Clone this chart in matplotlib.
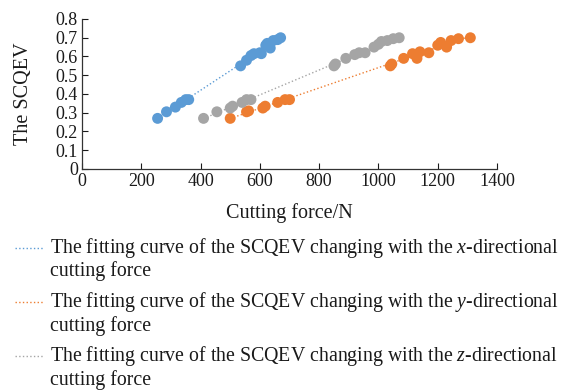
import numpy as np
import matplotlib.pyplot as plt
from matplotlib.lines import Line2D

plt.rcParams['font.family'] = 'Liberation Serif'
plt.rcParams['mathtext.fontset'] = 'custom'
plt.rcParams['mathtext.rm'] = 'Liberation Serif'
plt.rcParams['mathtext.it'] = 'Liberation Serif:italic'

# cutting force (N) vs SCQEV for each direction
fx = [255, 285, 315, 335, 350, 360, 535, 555, 570, 580, 600, 605, 620, 625, 635, 645, 660, 670]
sx = [0.27, 0.305, 0.33, 0.355, 0.37, 0.37, 0.55, 0.58, 0.605, 0.615, 0.62, 0.615, 0.66, 0.67, 0.645, 0.685, 0.69, 0.70]

fy = [500, 555, 562, 610, 618, 660, 685, 700, 1040, 1045, 1085, 1115, 1130, 1140, 1170, 1200, 1210, 1230, 1245, 1270, 1310]
sy = [0.27, 0.305, 0.31, 0.325, 0.335, 0.355, 0.37, 0.37, 0.55, 0.56, 0.59, 0.615, 0.59, 0.625, 0.62, 0.66, 0.675, 0.65, 0.685, 0.695, 0.70]

fz = [410, 455, 500, 508, 540, 555, 570, 850, 855, 890, 920, 935, 955, 985, 1000, 1010, 1030, 1050, 1070]
sz = [0.27, 0.305, 0.325, 0.335, 0.355, 0.37, 0.37, 0.55, 0.56, 0.59, 0.61, 0.62, 0.62, 0.65, 0.665, 0.68, 0.685, 0.695, 0.70]

xticks = [0, 200, 400, 600, 800, 1000, 1200, 1400]
yticks = [0, 0.1, 0.2, 0.3, 0.4, 0.5, 0.6, 0.7, 0.8]

colors = ['#5b9bd5', '#ed7d31', '#a5a5a5']
dirs = ['x', 'y', 'z']
series = [(fx, sx), (fy, sy), (fz, sz)]

fig = plt.figure(figsize=(5.73, 3.90), dpi=100)
ax = fig.add_axes([0.1431, 0.5667, 0.7243, 0.3846])

for (f, s), c in zip(series, colors):
    f = np.array(f, dtype=float)
    s = np.array(s)
    k, b = np.polyfit(f, s, 1)
    xx = np.linspace(f.min(), f.max(), 50)
    ax.plot(xx, k * xx + b, ls=':', lw=1.0, color=c, zorder=2)
    ax.scatter(f, s, s=62, color=c, edgecolors='none', zorder=3)

ax.set_xlim(0, 1400)
ax.set_ylim(0, 0.8)
ax.set_xticks(xticks)
ax.set_yticks(yticks)
ax.set_yticklabels(['0' if v == 0 else f'{v:.1f}' for v in yticks])
ax.tick_params(direction='in', length=4, width=0.8, labelsize=13, colors='#1a1a1a', pad=3)
for sp in ['top', 'right']:
    ax.spines[sp].set_visible(False)
for sp in ['left', 'bottom']:
    ax.spines[sp].set_color('#333333')
    ax.spines[sp].set_linewidth(0.9)
ax.set_xlabel('Cutting force/N', fontsize=14.5, labelpad=9, color='#1a1a1a')
ax.set_ylabel('The SCQEV', fontsize=14.5, labelpad=16, color='#1a1a1a')

# legend entries below the plot
rows = [(248, 271), (302, 326), (356, 380)]
for d, c, (y1, y2) in zip(dirs, colors, rows):
    fig.add_artist(Line2D([15 / 573, 43 / 573], [1 - y1 / 390, 1 - y1 / 390], ls=':', lw=1.0, color=c))
    fig.text(50 / 573, 1 - y1 / 390, f'The fitting curve of the SCQEV changing with the ${d}$-directional',
             fontsize=14.3, va='center', ha='left', color='#1a1a1a')
    fig.text(50 / 573, 1 - y2 / 390, 'cutting force',
             fontsize=14.3, va='center', ha='left', color='#1a1a1a')

fig.savefig('out.png', dpi=100)
